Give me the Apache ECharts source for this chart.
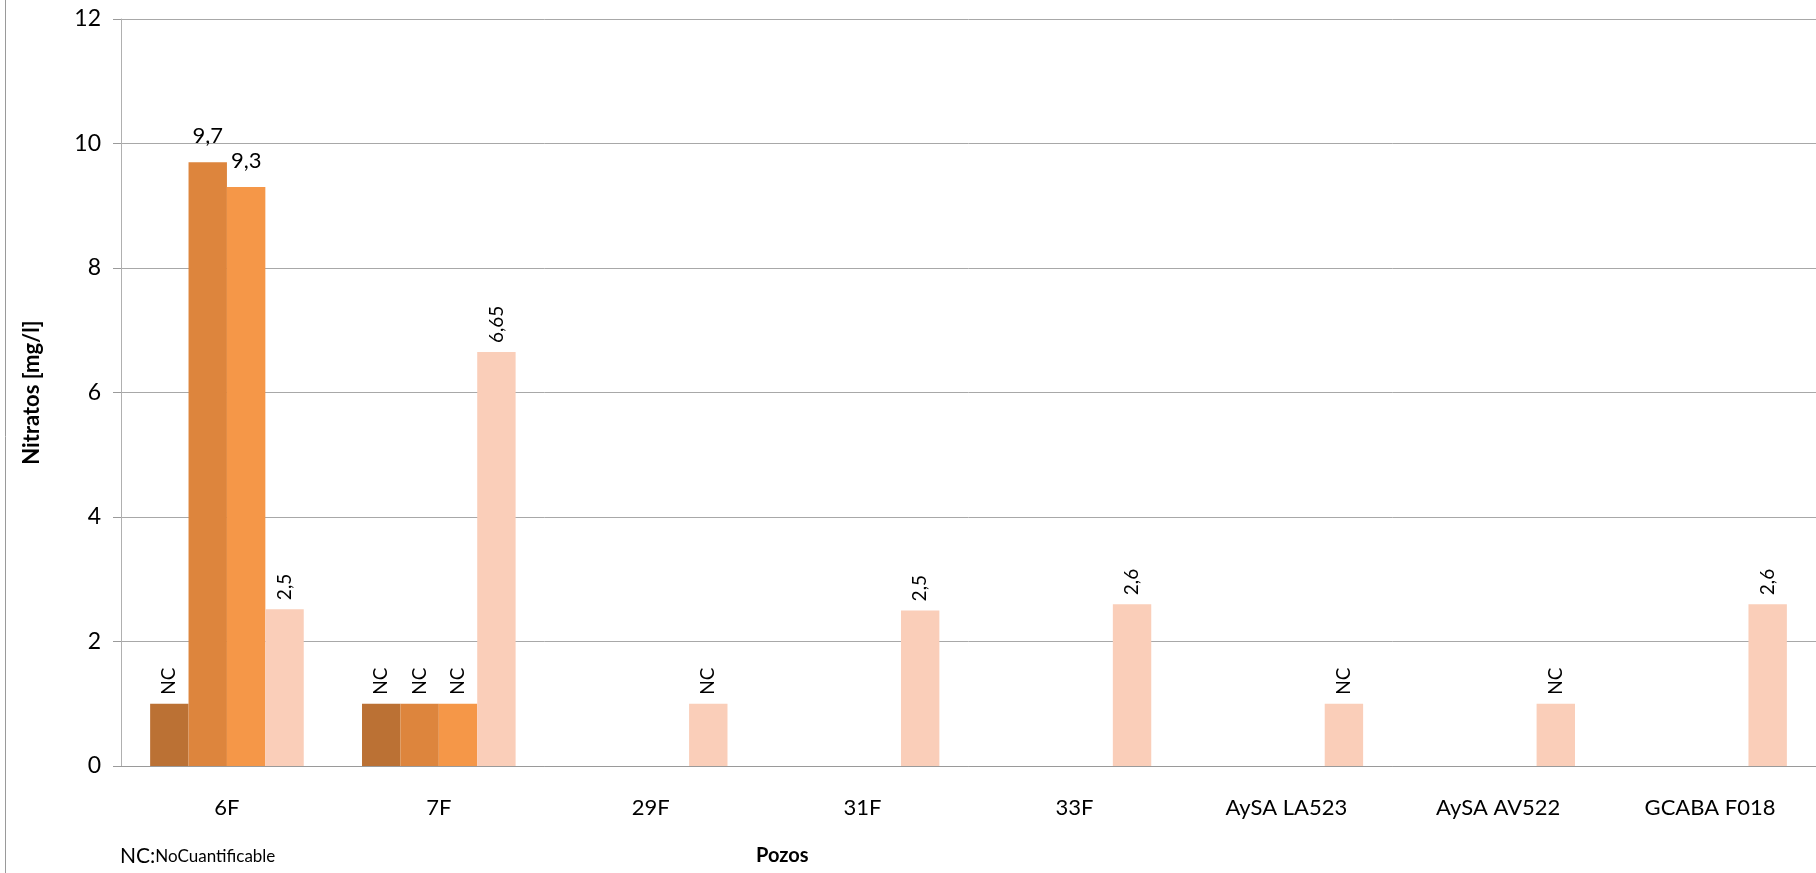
<!DOCTYPE html>
<html>
<head>
<meta charset="utf-8">
<script src="https://cdn.jsdelivr.net/npm/echarts@6/dist/echarts.min.js"></script>
<style>
html,body{margin:0;padding:0;background:#fff;}
#chart{width:1816px;height:873px;}
</style>
</head>
<body>
<div id="chart"></div>
<script>
// ---- data ----
const categories = ['6F', '7F', '29F', '31F', '33F', 'AySA LA523', 'AySA AV522', 'GCABA F018'];
// NC (No Cuantificable) values are drawn as a bar of height 1
const serie1 = [1, 1, null, null, null, null, null, null];
const serie1Labels = ['NC', 'NC', '', '', '', '', '', ''];
const serie2 = [9.7, 1, null, null, null, null, null, null];
const serie2Labels = ['9,7', 'NC', '', '', '', '', '', ''];
const serie3 = [9.3, 1, null, null, null, null, null, null];
const serie3Labels = ['9,3', 'NC', '', '', '', '', '', ''];
const serie4 = [2.52, 6.65, 1, 2.5, 2.6, 1, 1, 2.6];
const serie4Labels = ['2,5', '6,65', 'NC', '2,5', '2,6', 'NC', 'NC', '2,6'];
const yTicks = [0, 2, 4, 6, 8, 10, 12];

const seriesNames = ['Serie 1', 'Serie 2', 'Serie 3', 'Serie 4'];
const seriesValues = [serie1, serie2, serie3, serie4];
const seriesLabels = [serie1Labels, serie2Labels, serie3Labels, serie4Labels];
const colors = ['#BB7134', '#DD853D', '#F59748', '#FACEB9'];
const FONT = 'Lato, "Noto Sans", sans-serif';

function buildData(si) {
  return seriesValues[si].map((v, i) => {
    const lbl = seriesLabels[si][i];
    if (v == null) return null;
    const horizontal = (si === 1 || si === 2) && lbl !== 'NC';
    return {
      value: v,
      label: horizontal ? {
        show: true, formatter: lbl, position: 'top', distance: 15,
        rotate: 0, align: 'center', verticalAlign: 'bottom',
        fontSize: 22, color: '#000', fontFamily: FONT
      } : {
        show: true, formatter: lbl, position: 'top', distance: 9,
        rotate: 90, align: 'left', verticalAlign: 'middle',
        fontSize: 19, color: '#000', fontFamily: FONT
      }
    };
  });
}

const chart = echarts.init(document.getElementById('chart'), null, {renderer: 'canvas'});
chart.setOption({
  animation: false,
  backgroundColor: '#fff',
  grid: {left: 121, top: 19, width: 1700, height: 747, containLabel: false},
  xAxis: {
    type: 'category',
    data: categories,
    axisLine: {show: true, lineStyle: {color: '#9A9A9A', width: 1}},
    axisTick: {show: false},
    axisLabel: {fontSize: 22, color: '#000', fontFamily: FONT, margin: 31, interval: 0},
    splitLine: {show: false}
  },
  yAxis: {
    type: 'value',
    min: yTicks[0], max: yTicks[yTicks.length - 1], interval: 2,
    name: 'Nitratos [mg/l]',
    nameLocation: 'middle',
    nameGap: 78,
    nameTextStyle: {fontSize: 22, fontWeight: 'bold', color: '#000', fontFamily: FONT},
    axisLine: {show: true, lineStyle: {color: '#B0B0B0', width: 1}},
    axisTick: {show: true, inside: false, length: 8, lineStyle: {color: '#9A9A9A'}},
    axisLabel: {fontSize: 23, color: '#000', fontFamily: FONT, margin: 20},
    splitLine: {show: true, lineStyle: {color: '#A8A8A8', width: 1}}
  },
  series: seriesNames.map((name, si) => ({
    name: name,
    type: 'bar',
    data: buildData(si),
    itemStyle: {color: colors[si]},
    barGap: '0%',
    barCategoryGap: '27.5%'
  })),
  graphic: [
    {type: 'line', shape: {x1: 5.5, y1: 0, x2: 5.5, y2: 873}, style: {stroke: '#9A9A9A', lineWidth: 1}},
    {type: 'text', left: 120, top: 846,
      style: {
        text: '{a|NC:}{b|NoCuantificable}',
        rich: {
          a: {fontSize: 21, fontFamily: FONT, fill: '#000'},
          b: {fontSize: 17, fontFamily: FONT, fill: '#000'}
        }
      }
    },
    {type: 'text', left: 756, top: 846,
      style: {text: 'Pozos', fontSize: 20, fontWeight: 'bold', fontFamily: FONT, fill: '#000'}}
  ]
});
</script>
</body>
</html>
